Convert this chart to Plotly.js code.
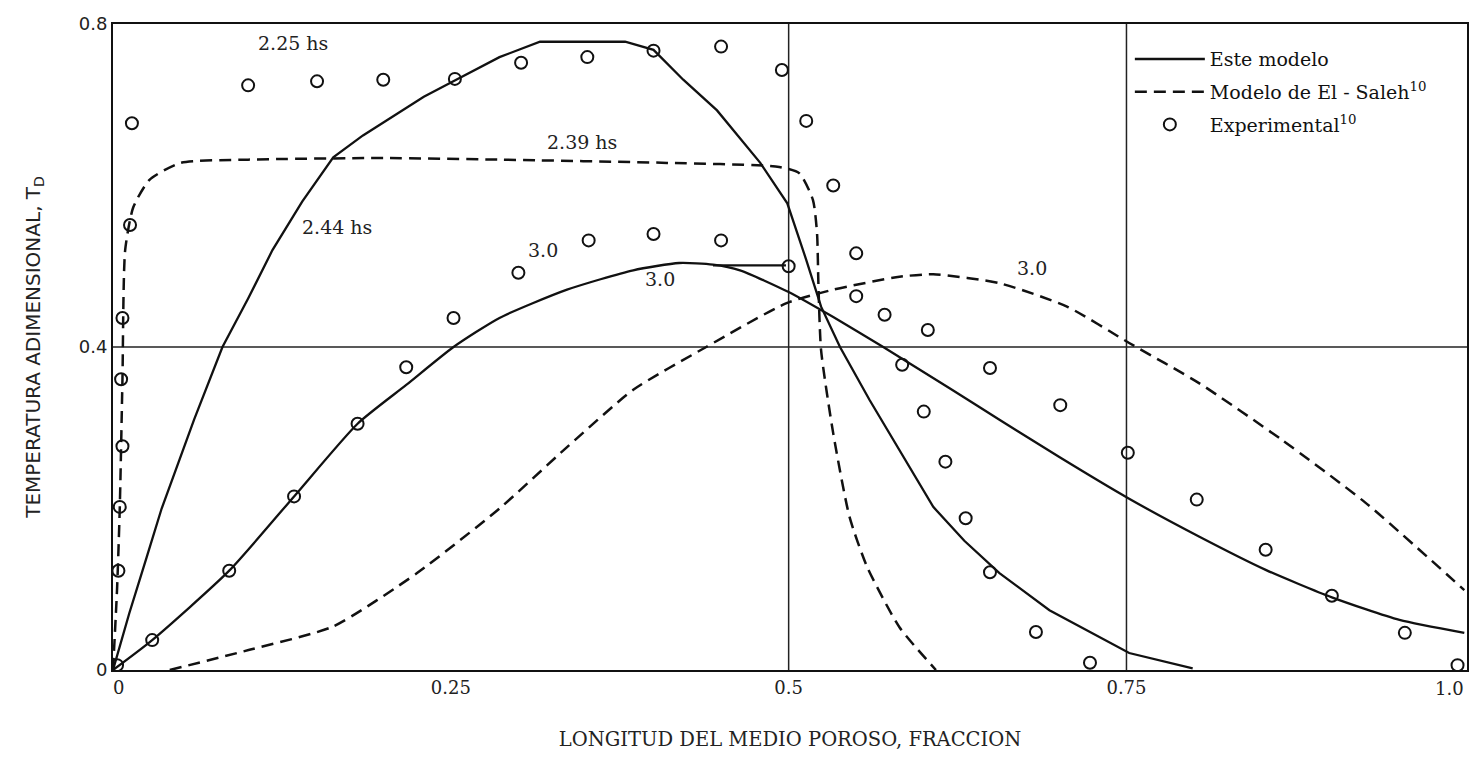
<!DOCTYPE html>
<html>
<head>
<meta charset="utf-8">
<script src="https://cdn.plot.ly/plotly-3.0.1.min.js"></script>
<style>html,body{margin:0;padding:0;background:#fff;}#chart{width:1472px;height:758px;}</style>
</head>
<body>
<div id="chart"></div>
<script>
// Este modelo, 2.44 hs
const model244X = [0, 0.012, 0.025, 0.036, 0.06, 0.081, 0.1, 0.118, 0.14, 0.163, 0.185, 0.207, 0.23, 0.254, 0.286, 0.316, 0.379, 0.4, 0.422, 0.447, 0.479, 0.499, 0.513, 0.524, 0.538, 0.56, 0.582, 0.607, 0.63, 0.656, 0.693, 0.752, 0.799];
const model244Y = [0, 0.07, 0.14, 0.2, 0.31, 0.4, 0.46, 0.52, 0.58, 0.635, 0.662, 0.685, 0.71, 0.731, 0.759, 0.778, 0.778, 0.768, 0.731, 0.693, 0.628, 0.578, 0.508, 0.45, 0.4, 0.334, 0.272, 0.202, 0.16, 0.12, 0.074, 0.021, 0.002];
// Este modelo, 3.0 hs
const model30X = [0, 0.029, 0.086, 0.134, 0.181, 0.217, 0.252, 0.286, 0.336, 0.385, 0.419, 0.444, 0.464, 0.5, 0.533, 0.57, 0.62, 0.656, 0.7, 0.751, 0.804, 0.853, 0.902, 0.952, 1.0];
const model30Y = [0, 0.037, 0.123, 0.215, 0.305, 0.353, 0.4, 0.436, 0.471, 0.495, 0.504, 0.502, 0.495, 0.468, 0.437, 0.4, 0.348, 0.31, 0.264, 0.213, 0.165, 0.124, 0.09, 0.062, 0.046];
const model30BranchX = [0.444, 0.498];
const model30BranchY = [0.501, 0.501];
// Modelo de El-Saleh, 2.39 hs
const saleh239X = [0, 0.003, 0.005, 0.007, 0.009, 0.015, 0.027, 0.05, 0.1, 0.2, 0.286, 0.41, 0.493, 0.508, 0.518, 0.521, 0.522, 0.524, 0.533, 0.545, 0.558, 0.582, 0.609];
const saleh239Y = [0, 0.1, 0.2, 0.36, 0.52, 0.573, 0.607, 0.628, 0.632, 0.634, 0.632, 0.628, 0.623, 0.615, 0.582, 0.541, 0.479, 0.396, 0.293, 0.19, 0.128, 0.053, 0];
// Modelo de El-Saleh, 3.0 hs
const saleh30X = [0.042, 0.101, 0.163, 0.225, 0.286, 0.336, 0.385, 0.439, 0.498, 0.533, 0.582, 0.607, 0.656, 0.706, 0.752, 0.804, 0.865, 0.927, 1.0];
const saleh30Y = [0, 0.025, 0.054, 0.12, 0.2, 0.276, 0.347, 0.4, 0.454, 0.471, 0.487, 0.49, 0.479, 0.45, 0.405, 0.355, 0.285, 0.207, 0.099];
// Experimental, 2.25 hs
const exp225X = [0.003, 0.004, 0.005, 0.007, 0.006, 0.007, 0.0126, 0.014, 0.1, 0.151, 0.2, 0.253, 0.302, 0.351, 0.4, 0.45, 0.495, 0.513, 0.533, 0.55, 0.584, 0.6, 0.616, 0.631, 0.649, 0.683, 0.723];
const exp225Y = [0.006, 0.123, 0.202, 0.277, 0.36, 0.436, 0.551, 0.677, 0.724, 0.729, 0.731, 0.732, 0.752, 0.759, 0.767, 0.772, 0.743, 0.68, 0.6, 0.516, 0.378, 0.32, 0.258, 0.188, 0.121, 0.047, 0.009];
// Experimental, 3.0 hs
const exp30X = [0.029, 0.086, 0.134, 0.181, 0.217, 0.252, 0.3, 0.352, 0.4, 0.45, 0.5, 0.55, 0.571, 0.603, 0.649, 0.701, 0.751, 0.802, 0.853, 0.902, 0.956, 0.995];
const exp30Y = [0.037, 0.123, 0.215, 0.305, 0.375, 0.436, 0.492, 0.532, 0.54, 0.532, 0.5, 0.463, 0.44, 0.421, 0.374, 0.328, 0.269, 0.211, 0.149, 0.092, 0.046, 0.006];

const xTickVals = [0, 0.25, 0.5, 0.75];
const xTickText = ['\u00a0\u00a00', '0.25', '0.5', '0.75'];
const xEndTick = {value: 1.0, text: '1.0'};
const yTickVals = [0, 0.4, 0.8];
const yTickText = ['0', '0.4', '0.8'];
const xGrid = [0.5, 0.75];
const yGrid = [0.4];

const labels = [
  {x: 0.133, y: 0.776, text: '2.25 hs'},
  {x: 0.347, y: 0.654, text: '2.39 hs'},
  {x: 0.166, y: 0.549, text: '2.44 hs'},
  {x: 0.318, y: 0.52, text: '3.0'},
  {x: 0.405, y: 0.484, text: '3.0'},
  {x: 0.68, y: 0.498, text: '3.0'}
];

const solid = {color: '#111', width: 2.3};
const solidSmooth = {color: '#111', width: 2.3, shape: 'spline', smoothing: 0.6};
const dashedSmooth = {color: '#111', width: 2.5, dash: '12px,7px', shape: 'spline', smoothing: 0.6};
const mk = {symbol: 'circle-open', size: 12, color: '#111', line: {width: 2, color: '#111'}};

const traces = [
  {x: model244X, y: model244Y, mode: 'lines', line: solid, name: 'Este modelo', legendgroup: 'a'},
  {x: model30X, y: model30Y, mode: 'lines', line: solidSmooth, showlegend: false, legendgroup: 'a'},
  {x: model30BranchX, y: model30BranchY, mode: 'lines', line: solid, showlegend: false, legendgroup: 'a'},
  {x: saleh239X, y: saleh239Y, mode: 'lines', line: dashedSmooth, name: 'Modelo de El - Saleh<sup>10</sup>', legendgroup: 'b'},
  {x: saleh30X, y: saleh30Y, mode: 'lines', line: dashedSmooth, showlegend: false, legendgroup: 'b'},
  {x: exp225X, y: exp225Y, mode: 'markers', marker: mk, name: 'Experimental<sup>10</sup>', legendgroup: 'c'},
  {x: exp30X, y: exp30Y, mode: 'markers', marker: mk, showlegend: false, legendgroup: 'c'}
];

const shapes = [];
xGrid.forEach(v => shapes.push({type: 'line', xref: 'x', yref: 'paper', x0: v, x1: v, y0: 0, y1: 1, line: {color: '#222', width: 1.5}, layer: 'below'}));
yGrid.forEach(v => shapes.push({type: 'line', xref: 'paper', yref: 'y', x0: 0, x1: 1, y0: v, y1: v, line: {color: '#222', width: 1.5}, layer: 'below'}));

const annotations = labels.map(l => ({x: l.x, y: l.y, xref: 'x', yref: 'y', text: l.text, showarrow: false,
          font: {family: 'DejaVu Serif', size: 19, color: '#222'}}));
annotations.push({x: xEndTick.value, y: 0, xref: 'x', yref: 'paper', text: xEndTick.text, showarrow: false,
          xanchor: 'right', yanchor: 'top', xshift: 2, yshift: -6,
          font: {family: 'DejaVu Serif', size: 18, color: '#222'}});

const layout = {
  width: 1472, height: 758,
  margin: {l: 113, r: 5, t: 24, b: 88},
  paper_bgcolor: '#fff', plot_bgcolor: '#fff',
  showlegend: true,
  legend: {x: 0.751, y: 0.975, xanchor: 'left', yanchor: 'top', bgcolor: 'rgba(0,0,0,0)',
           font: {family: 'DejaVu Serif', size: 19, color: '#111'}, itemwidth: 70,
           traceorder: 'grouped', tracegroupgap: 5},
  xaxis: {range: [0, 1.002], tickvals: xTickVals, ticktext: xTickText, showgrid: false, zeroline: false,
          showline: true, mirror: true, linecolor: '#111', linewidth: 2, ticks: '',
          tickfont: {family: 'DejaVu Serif', size: 18, color: '#222'},
          title: {text: 'LONGITUD DEL MEDIO POROSO, FRACCION', standoff: 36,
                  font: {family: 'DejaVu Serif', size: 19.5, color: '#222'}}},
  yaxis: {range: [0, 0.8], tickvals: yTickVals, ticktext: yTickText, showgrid: false, zeroline: false,
          showline: true, mirror: true, linecolor: '#111', linewidth: 2, ticks: '',
          tickfont: {family: 'DejaVu Sans', size: 18, color: '#222'},
          title: {text: 'TEMPERATURA ADIMENSIONAL, T<sub>D</sub>', standoff: 33,
                  font: {family: 'DejaVu Sans', size: 20, color: '#222'}}},
  shapes: shapes,
  annotations: annotations
};

Plotly.newPlot('chart', traces, layout, {displayModeBar: false, staticPlot: true});
</script>
</body>
</html>
